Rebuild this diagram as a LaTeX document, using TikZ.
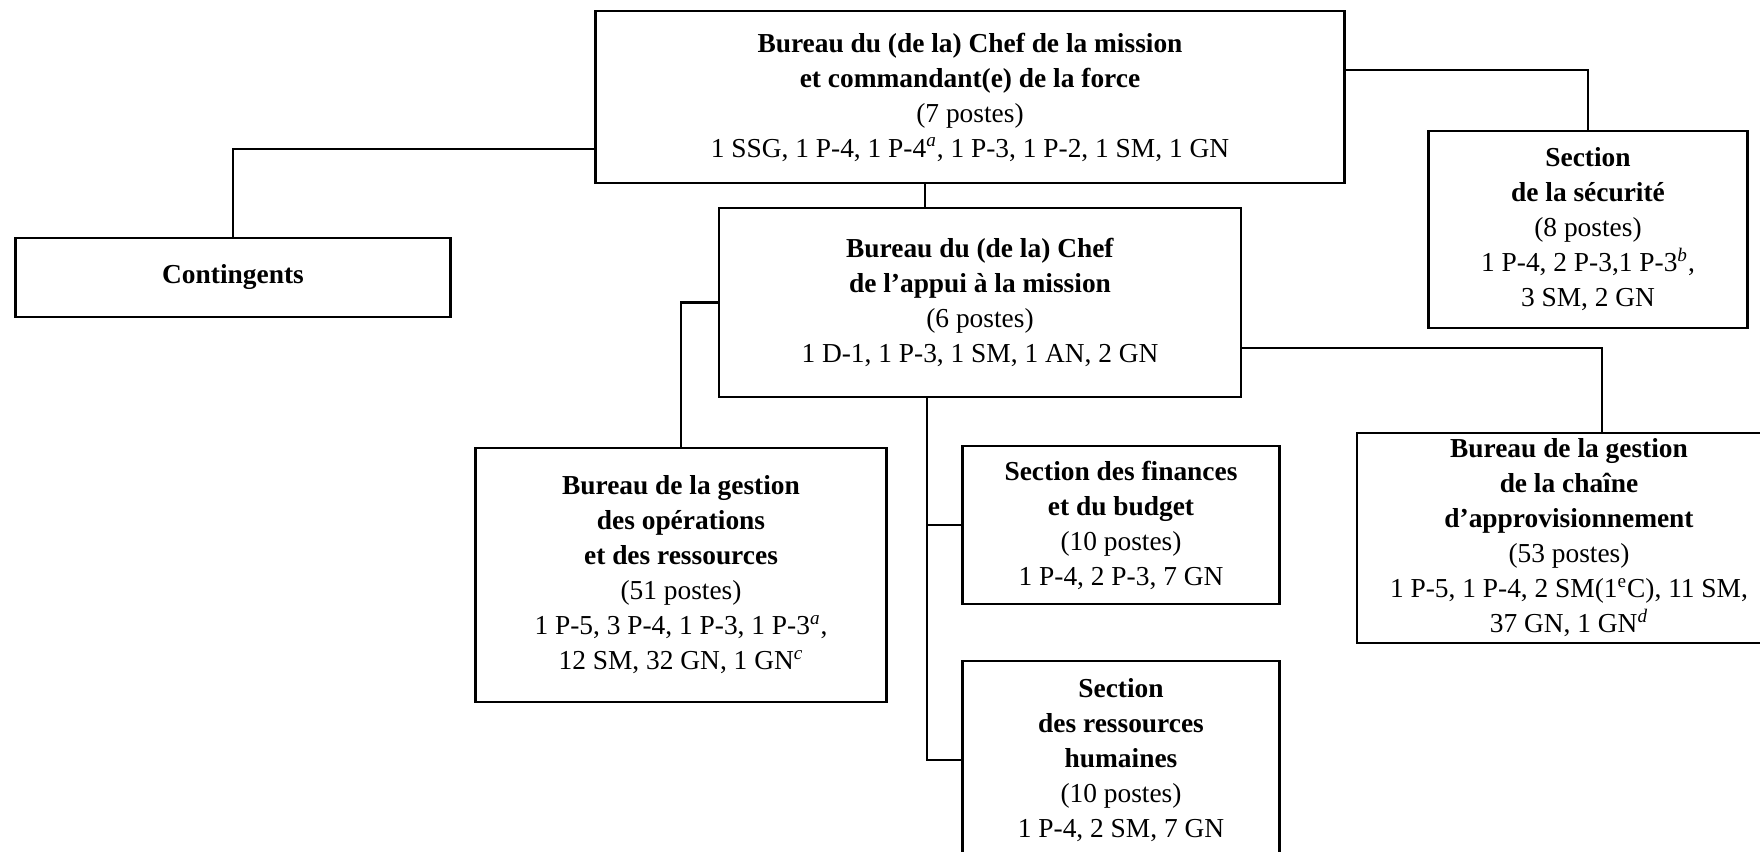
\documentclass[tikz,border=0pt]{standalone}
\usepackage{fontspec}
\setmainfont{Liberation Serif}
\newcommand{\supit}[1]{\textsuperscript{\textit{#1}}}

\begin{document}
\begin{tikzpicture}[x=0.5pt,y=-0.5pt,
  orgbox/.style={draw, line width=1.2pt, inner sep=0pt, align=center,
    font=\fontsize{13.7}{17.5}\selectfont},
  link/.style={line width=1.2pt}]

\useasboundingbox (0,0) rectangle (1760,851);

\node [orgbox, minimum width=374.5pt, minimum height=86pt] (chef) at (970,97)
  {\textbf{Bureau du (de la) Chef de la mission}\\
   \textbf{et commandant(e) de la force}\\
   (7 postes)\\
   1 SSG, 1 P-4, 1 P-4\supit{a}, 1 P-3, 1 P-2, 1 SM, 1 GN};
\node [orgbox, minimum width=217.5pt, minimum height=39.5pt] (cont) at (233,277.5)
  {\textbf{Contingents}};
\node [orgbox, minimum width=261pt, minimum height=94.5pt] (appui) at (980,302.5)
  {\textbf{Bureau du (de la) Chef}\\
   \textbf{de l’appui à la mission}\\
   (6 postes)\\
   1 D-1, 1 P-3, 1 SM, 1 AN, 2 GN};
\node [orgbox, minimum width=159.5pt, minimum height=98.5pt] (secu) at (1588,229.5)
  {\textbf{Section}\\
   \textbf{de la sécurité}\\
   (8 postes)\\
   1 P-4, 2 P-3,1 P-3\supit{b},\\
   3 SM, 2 GN};
\node [orgbox, minimum width=205.5pt, minimum height=127pt] (ops) at (681,575)
  {\textbf{Bureau de la gestion}\\
   \textbf{des opérations}\\
   \textbf{et des ressources}\\
   (51 postes)\\
   1 P-5, 3 P-4, 1 P-3, 1 P-3\supit{a},\\
   12 SM, 32 GN, 1 GN\supit{c}};
\node [orgbox, minimum width=158.5pt, minimum height=79pt] (fin) at (1121,525)
  {\textbf{Section des finances}\\
   \textbf{et du budget}\\
   (10 postes)\\
   1 P-4, 2 P-3, 7 GN};
\node [orgbox, minimum width=158.5pt, minimum height=99pt] (rh) at (1121,760)
  {\textbf{Section}\\
   \textbf{des ressources}\\
   \textbf{humaines}\\
   (10 postes)\\
   1 P-4, 2 SM, 7 GN};
\node [orgbox, minimum width=212pt, minimum height=105pt] (appro) at (1569,538)
  {\textbf{Bureau de la gestion}\\
   \textbf{de la chaîne}\\
   \textbf{d’approvisionnement}\\
   (53 postes)\\
   1 P-5, 1 P-4, 2 SM(1\textsuperscript{e}C), 11 SM,\\
   37 GN, 1 GN\supit{d}};

% liens
\draw [link] ([yshift=-26pt]chef.west) -| (cont.north);
\draw [link] ([yshift=13.5pt]chef.east) -| (secu.north);
\draw [link] ([xshift=-22.5pt]chef.south) -- ([xshift=-22.5pt]chef.south |- appui.north);
\draw [link] (appui.west) -| (ops.north);
\draw [link] ([yshift=-22.75pt]appui.east) -| ([xshift=16.5pt]appro.north);
\draw [link] ([xshift=-26.5pt]appui.south) |- (fin.west);
\draw [link] ([xshift=-26.5pt]appui.south) |- (rh.west);
\end{tikzpicture}
\end{document}
